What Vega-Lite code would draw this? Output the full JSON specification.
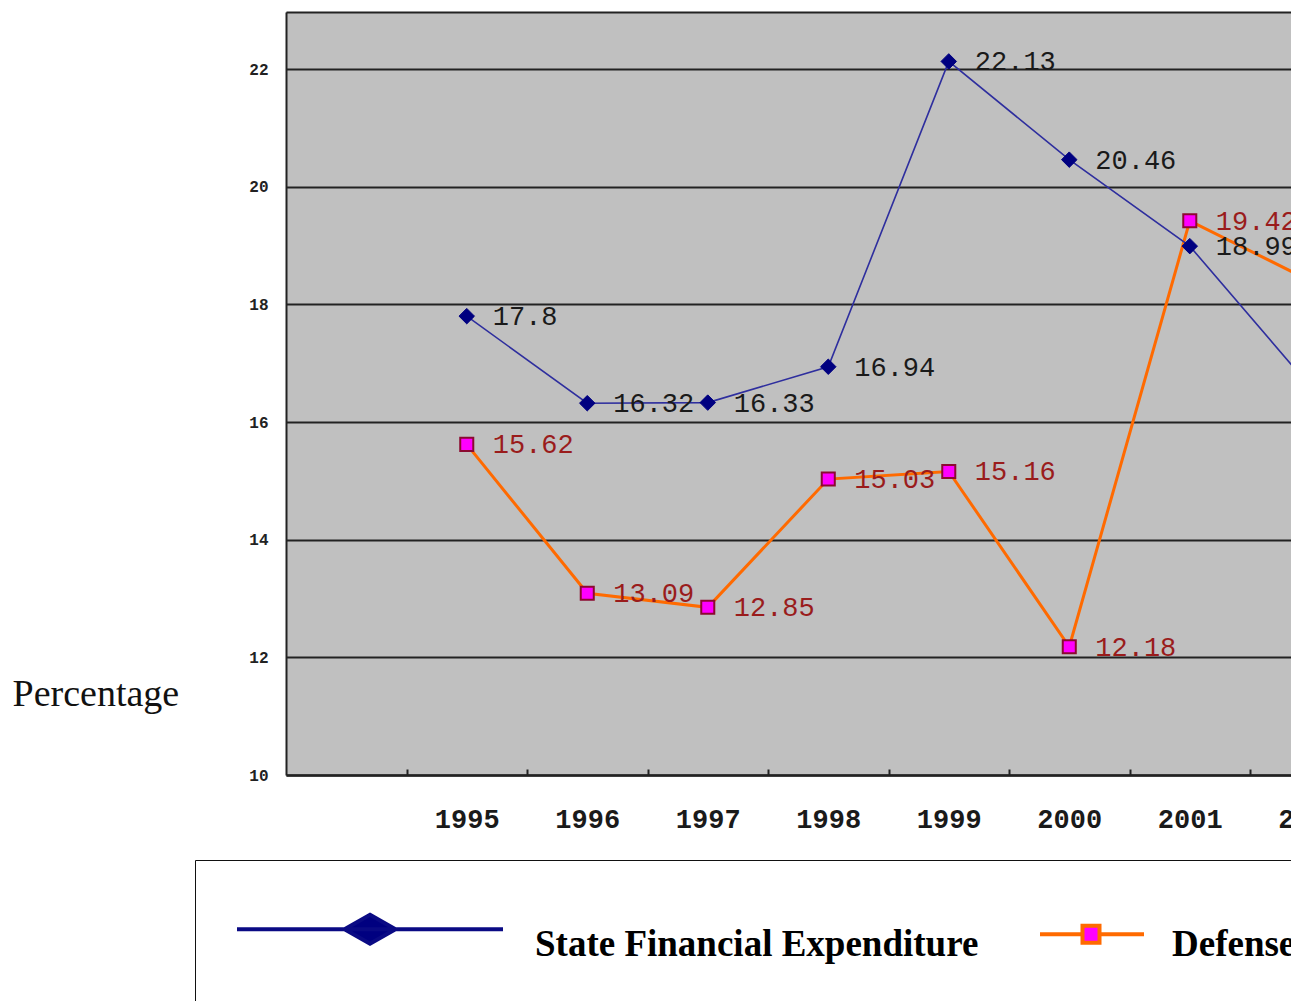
{
  "$schema": "https://vega.github.io/schema/vega-lite/v6.json",
  "width": 1005,
  "height": 763,
  "autosize": {"type": "none"},
  "padding": {"left": 286, "top": 12, "right": 0, "bottom": 226},
  "background": "white",
  "config": {
    "view": {"fill": "#C0C0C0", "stroke": null}
  },
  "data": {
    "values": [
      {"year": 1995, "series": "State Financial Expenditure", "value": 17.8},
      {"year": 1996, "series": "State Financial Expenditure", "value": 16.32},
      {"year": 1997, "series": "State Financial Expenditure", "value": 16.33},
      {"year": 1998, "series": "State Financial Expenditure", "value": 16.94},
      {"year": 1999, "series": "State Financial Expenditure", "value": 22.13},
      {"year": 2000, "series": "State Financial Expenditure", "value": 20.46},
      {"year": 2001, "series": "State Financial Expenditure", "value": 18.99},
      {"year": 2002, "series": "State Financial Expenditure", "value": 16.6},
      {"year": 1995, "series": "Defense Expenditure", "value": 15.62},
      {"year": 1996, "series": "Defense Expenditure", "value": 13.09},
      {"year": 1997, "series": "Defense Expenditure", "value": 12.85},
      {"year": 1998, "series": "Defense Expenditure", "value": 15.03},
      {"year": 1999, "series": "Defense Expenditure", "value": 15.16},
      {"year": 2000, "series": "Defense Expenditure", "value": 12.18},
      {"year": 2001, "series": "Defense Expenditure", "value": 19.42},
      {"year": 2002, "series": "Defense Expenditure", "value": 18.4}
    ]
  },
  "encoding": {
    "x": {
      "field": "year",
      "type": "quantitative",
      "scale": {"domain": [1993.5, 2001.84], "nice": false, "zero": false},
      "axis": {
        "title": null,
        "values": [1994.5, 1995.5, 1996.5, 1997.5, 1998.5, 1999.5, 2000.5, 2001.5],
        "labelExpr": "format(datum.value + 0.5, 'd')",
        "labelOffset": 60.25,
        "labelFlush": false,
        "labelBound": false,
        "labelOverlap": false,
        "grid": false,
        "tickSize": -6,
        "tickWidth": 2,
        "tickColor": "#222222",
        "domainColor": "#222222",
        "domainWidth": 2.5,
        "labelPadding": 50,
        "labelBaseline": "middle",
        "labelFont": "Liberation Mono",
        "labelFontSize": 27,
        "labelFontWeight": "bold",
        "labelColor": "#1a1a1a"
      }
    },
    "y": {
      "field": "value",
      "type": "quantitative",
      "scale": {"domain": [10, 22.97], "nice": false, "zero": false},
      "axis": {
        "values": [10, 12, 14, 16, 18, 20, 22, 22.97],
        "labelExpr": "datum.value > 22.5 ? '' : datum.label",
        "grid": true,
        "gridColor": "#222222",
        "gridWidth": 2,
        "gridOpacity": 1,
        "ticks": false,
        "domainColor": "#222222",
        "domainWidth": 2,
        "labelPadding": 18,
        "labelFont": "Liberation Mono",
        "labelFontSize": 16,
        "labelFontWeight": "bold",
        "labelColor": "#222222",
        "title": "Percentage",
        "titleFont": "Liberation Serif",
        "titleFontSize": 38,
        "titleFontWeight": "normal",
        "titleColor": "#111111",
        "titleAngle": 0,
        "titleAlign": "left",
        "titleBaseline": "alphabetic",
        "titleX": -274,
        "titleY": 693
      }
    }
  },
  "layer": [
    {
      "transform": [{"filter": "datum.series === 'Defense Expenditure'"}],
      "mark": {"type": "line", "color": "#FF6A00", "strokeWidth": 3, "clip": true}
    },
    {
      "transform": [{"filter": "datum.series === 'State Financial Expenditure'"}],
      "mark": {"type": "line", "color": "#2E2E9E", "strokeWidth": 1.6, "clip": true}
    },
    {
      "transform": [{"filter": "datum.series === 'State Financial Expenditure'"}],
      "mark": {"type": "point", "filled": true, "shape": "diamond", "size": 240, "color": "#000080", "stroke": "#000080", "strokeWidth": 1, "opacity": 1, "clip": true}
    },
    {
      "transform": [{"filter": "datum.series === 'Defense Expenditure'"}],
      "mark": {"type": "point", "filled": true, "shape": "square", "size": 170, "color": "#FF00FF", "stroke": "#8B0A30", "strokeWidth": 2, "opacity": 1, "clip": true}
    },
    {
      "transform": [{"filter": "datum.series === 'State Financial Expenditure'"}],
      "mark": {"type": "text", "align": "left", "baseline": "middle", "dx": 26, "dy": 1, "font": "Liberation Mono", "fontSize": 27, "color": "#1a1a1a", "clip": true},
      "encoding": {"text": {"field": "value", "type": "quantitative"}}
    },
    {
      "transform": [{"filter": "datum.series === 'Defense Expenditure'"}],
      "mark": {"type": "text", "align": "left", "baseline": "middle", "dx": 26, "dy": 1, "font": "Liberation Mono", "fontSize": 27, "color": "#9A1C1C", "clip": true},
      "encoding": {"text": {"field": "value", "type": "quantitative"}}
    },
    {
      "transform": [{"filter": "datum.value < 0"}],
      "mark": {"type": "point", "filled": true, "strokeWidth": 4, "opacity": 1, "clip": true},
      "encoding": {
        "shape": {
          "field": "series",
          "type": "nominal",
          "scale": {
            "domain": ["State Financial Expenditure", "Defense Expenditure"],
            "range": ["M-12.35,-2.65H14.25M0.95,-4.1L3.5,-2.65L0.95,-1.2L-1.6,-2.65Z", "M4.25,-2.15H8.5M10.2,-2.15H14.65M8.5,-3H10.2V-1.3H8.5Z"]
          }
        },
        "stroke": {
          "field": "series",
          "type": "nominal",
          "scale": {"domain": ["State Financial Expenditure", "Defense Expenditure"], "range": ["#0A0A84", "#FF6A00"]}
        },
        "fill": {
          "field": "series",
          "type": "nominal",
          "scale": {"domain": ["State Financial Expenditure", "Defense Expenditure"], "range": ["#000080", "#FF00FF"]},
          "legend": {
            "title": " ",
            "titleOrient": "left",
            "titleFontSize": 10,
            "titlePadding": 70,
            "orient": "none",
            "legendX": -91,
            "legendY": 848,
            "direction": "horizontal",
            "padding": 77,
            "fillColor": "white",
            "strokeColor": "#111111",
            "symbolSize": 400,
            "symbolStrokeWidth": 4,
            "symbolOpacity": 1,
            "symbolOffset": 0,
            "labelOffset": 156,
            "columnPadding": 0,
            "labelFont": "Liberation Serif",
            "labelFontSize": 37,
            "labelFontWeight": "bold",
            "labelColor": "#000000",
            "labelLimit": 2000,
            "labelBaseline": "alphabetic"
          }
        }
      }
    }
  ]
}
